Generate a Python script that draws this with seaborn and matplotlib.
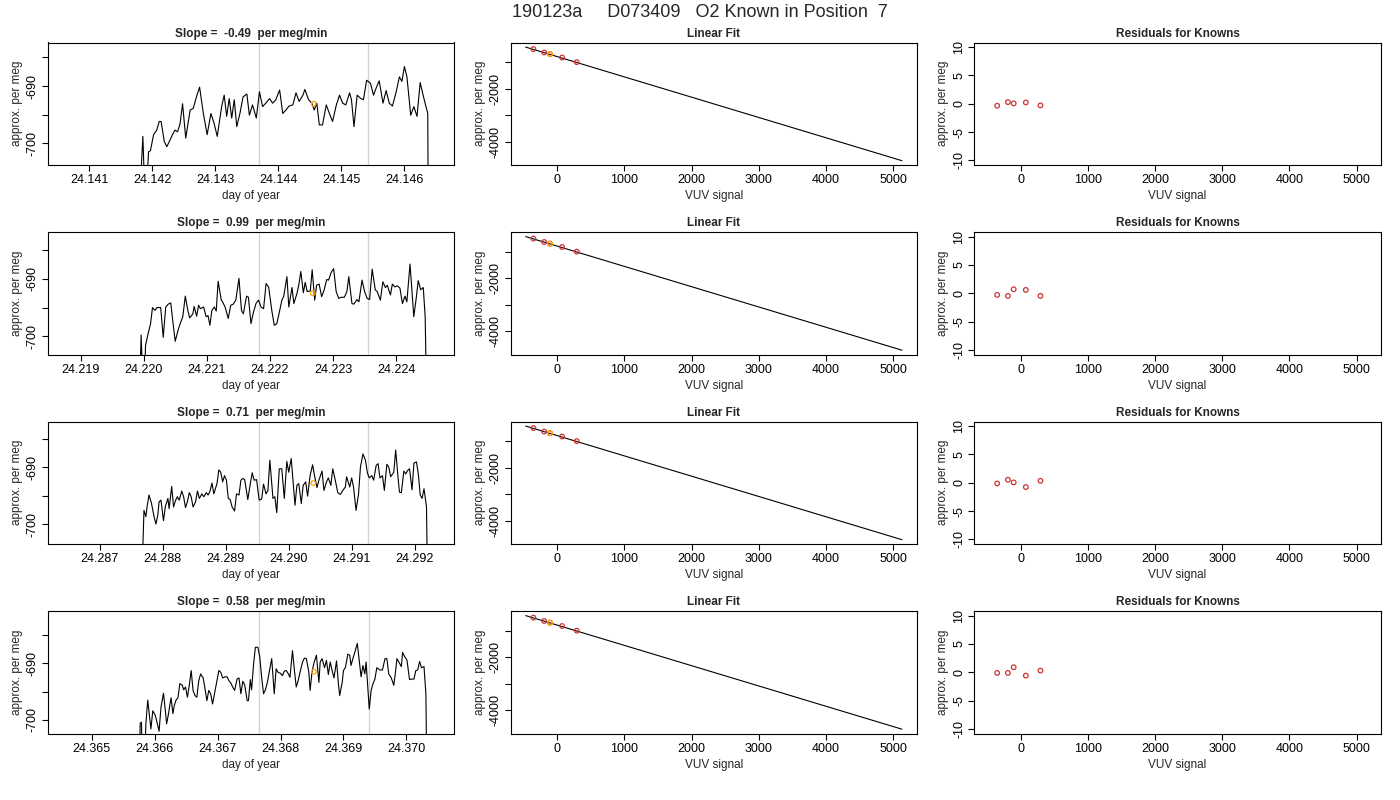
import numpy as np
import pandas as pd
import matplotlib
matplotlib.use("Agg")
import matplotlib.pyplot as plt
import matplotlib.ticker as mticker
import seaborn as sns

# ---- data ----
main_title = "190123a     D073409   O2 Known in Position  7"
slopes = [-0.49, 0.99, 0.71, 0.58]

# time series (day of year, approx. per meg); values off the bottom are clipped
t1 = [24.14179, 24.14185, 24.14189, 24.14194, 24.14197, 24.14202, 24.14207, 24.14211, 24.14214, 24.14219,
      24.14223, 24.14227, 24.14232, 24.14236, 24.14240, 24.14244, 24.14248, 24.14253, 24.14260, 24.14265,
      24.14270, 24.14275, 24.14281, 24.14287, 24.14293, 24.14298, 24.14303, 24.14310, 24.14314, 24.14318,
      24.14322, 24.14326, 24.14330, 24.14334, 24.14339, 24.14344, 24.14350, 24.14354, 24.14359, 24.14365,
      24.14370, 24.14375, 24.14380, 24.14386, 24.14391, 24.14396, 24.14402, 24.14407, 24.14412, 24.14417,
      24.14423, 24.14428, 24.14433, 24.14439, 24.14442, 24.14448, 24.14453, 24.14457, 24.14461, 24.14465,
      24.14470, 24.14476, 24.14481, 24.14486, 24.14492, 24.14497, 24.14502, 24.14507, 24.14513, 24.14516,
      24.14520, 24.14525, 24.14531, 24.14535, 24.14540, 24.14546, 24.14551, 24.14555, 24.14560, 24.14566,
      24.14571, 24.14576, 24.14581, 24.14587, 24.14592, 24.14596, 24.14600, 24.14604, 24.14610, 24.14615,
      24.14620, 24.14625, 24.14631, 24.14637, 24.14638]
v1 = [-712, -698.8, -712, -701.5, -701.3, -698.5, -697.7, -696.2, -696.2, -699.7,
      -700.6, -699.7, -698.5, -697.7, -698.0, -696.6, -693.1, -699.1, -694.2, -693.9,
      -691.9, -690.2, -694.8, -698.5, -694.8, -696.5, -698.8, -693.6, -691.6, -695.3,
      -692.2, -695.6, -692.4, -697.1, -694.8, -691.9, -691.4, -695.1, -693.3, -695.6,
      -691.0, -693.6, -693.0, -692.2, -693.0, -692.4, -690.7, -694.8, -694.2, -693.5,
      -693.3, -691.2, -692.7, -691.6, -690.6, -692.4, -693.0, -694.2, -693.0, -696.8,
      -696.8, -693.3, -694.8, -696.2, -693.3, -691.6, -693.0, -693.3, -691.2, -692.4,
      -697.1, -691.6, -692.2, -692.4, -689.0, -689.5, -691.6, -690.4, -689.1, -693.0,
      -690.8, -693.0, -693.5, -691.0, -688.4, -689.2, -686.6, -688.4, -695.1, -693.6,
      -695.3, -689.4, -692.2, -694.8, -715]

t2 = [24.21993, 24.21996, 24.22000, 24.22003, 24.22007, 24.22011, 24.22014, 24.22018, 24.22021, 24.22025,
      24.22027, 24.22031, 24.22035, 24.22039, 24.22043, 24.22046, 24.22050, 24.22053, 24.22056, 24.22062,
      24.22066, 24.22070, 24.22073, 24.22078, 24.22080, 24.22084, 24.22087, 24.22090, 24.22095, 24.22099,
      24.22102, 24.22105, 24.22108, 24.22112, 24.22115, 24.22118, 24.22123, 24.22125, 24.22129, 24.22134,
      24.22138, 24.22142, 24.22146, 24.22151, 24.22155, 24.22158, 24.22163, 24.22166, 24.22170, 24.22174,
      24.22178, 24.22182, 24.22186, 24.22190, 24.22194, 24.22198, 24.22203, 24.22207, 24.22211, 24.22215,
      24.22219, 24.22222, 24.22227, 24.22230, 24.22235, 24.22238, 24.22243, 24.22246, 24.22249, 24.22253,
      24.22256, 24.22259, 24.22264, 24.22267, 24.22271, 24.22274, 24.22278, 24.22282, 24.22286, 24.22290,
      24.22293, 24.22297, 24.22301, 24.22305, 24.22309, 24.22313, 24.22318, 24.22322, 24.22325, 24.22330,
      24.22333, 24.22338, 24.22341, 24.22346, 24.22350, 24.22354, 24.22358, 24.22362, 24.22367, 24.22370,
      24.22375, 24.22379, 24.22383, 24.22386, 24.22391, 24.22394, 24.22398, 24.22402, 24.22406, 24.22410,
      24.22414, 24.22417, 24.22422, 24.22428, 24.22432, 24.22435, 24.22439, 24.22443, 24.22446, 24.22449]
v2 = [-712, -699.8, -712, -701.6, -699.6, -697.8, -695.0, -695.5, -695.0, -695.0,
      -695.0, -700.2, -694.9, -694.4, -694.2, -697.2, -700.9, -699.6, -698.4, -696.6,
      -693.0, -695.5, -696.8, -696.1, -694.8, -696.5, -694.6, -695.2, -694.9, -696.6,
      -696.4, -698.1, -695.5, -694.9, -695.6, -690.4, -693.7, -694.0, -694.9, -696.9,
      -694.6, -694.4, -693.7, -689.9, -695.5, -696.1, -693.0, -693.2, -697.8, -695.8,
      -694.3, -693.7, -694.9, -695.2, -690.8, -691.4, -695.5, -698.1, -697.8, -695.8,
      -693.7, -693.0, -689.6, -694.9, -691.5, -694.3, -692.5, -690.9, -688.7, -692.4,
      -690.6, -692.2, -692.1, -688.4, -693.7, -691.1, -690.9, -693.1, -691.9, -690.1,
      -690.2, -688.9, -688.2, -692.2, -693.4, -693.2, -693.2, -692.2, -689.6, -694.3,
      -694.4, -693.6, -694.0, -690.2, -692.2, -693.4, -693.6, -688.3, -691.9, -692.2,
      -693.7, -690.5, -691.5, -691.1, -692.8, -690.9, -691.4, -691.2, -691.6, -694.3,
      -693.0, -694.0, -687.4, -696.6, -693.2, -690.3, -691.9, -691.5, -696.6, -715]

t3 = [24.28766, 24.28770, 24.28773, 24.28775, 24.28778, 24.28782, 24.28786, 24.28789, 24.28792, 24.28794,
      24.28797, 24.28801, 24.28804, 24.28808, 24.28810, 24.28814, 24.28817, 24.28820, 24.28823, 24.28826,
      24.28830, 24.28833, 24.28836, 24.28839, 24.28842, 24.28845, 24.28848, 24.28852, 24.28855, 24.28858,
      24.28862, 24.28865, 24.28869, 24.28872, 24.28875, 24.28878, 24.28881, 24.28886, 24.28889, 24.28892,
      24.28895, 24.28898, 24.28901, 24.28904, 24.28907, 24.28910, 24.28914, 24.28917, 24.28921, 24.28924,
      24.28927, 24.28930, 24.28935, 24.28939, 24.28942, 24.28945, 24.28949, 24.28953, 24.28957, 24.28960,
      24.28964, 24.28967, 24.28970, 24.28975, 24.28978, 24.28981, 24.28985, 24.28989, 24.28993, 24.28997,
      24.29000, 24.29004, 24.29007, 24.29010, 24.29013, 24.29016, 24.29020, 24.29023, 24.29027, 24.29030,
      24.29034, 24.29038, 24.29041, 24.29045, 24.29048, 24.29053, 24.29056, 24.29060, 24.29063, 24.29067,
      24.29070, 24.29074, 24.29078, 24.29082, 24.29086, 24.29090, 24.29092, 24.29097, 24.29100, 24.29103,
      24.29107, 24.29111, 24.29114, 24.29118, 24.29122, 24.29125, 24.29128, 24.29132, 24.29135, 24.29139,
      24.29142, 24.29145, 24.29149, 24.29152, 24.29156, 24.29159, 24.29162, 24.29167, 24.29170, 24.29173,
      24.29176, 24.29179, 24.29183, 24.29186, 24.29189, 24.29192, 24.29196, 24.29199, 24.29203, 24.29206,
      24.29209, 24.29212, 24.29215, 24.29219, 24.29221]
v3 = [-712, -697.6, -698.7, -696.9, -694.9, -696.4, -698.7, -700.0, -698.4, -696.1,
      -695.8, -699.4, -696.9, -695.5, -697.3, -693.4, -697.0, -695.9, -695.2, -695.8,
      -694.2, -695.2, -697.1, -696.1, -694.5, -695.2, -697.0, -696.1, -694.2, -695.5,
      -694.7, -695.2, -694.5, -694.9, -694.2, -692.8, -694.7, -692.9, -690.5, -690.9,
      -692.6, -691.5, -692.3, -695.5, -695.7, -697.0, -697.7, -694.7, -694.9, -692.3,
      -692.0, -692.2, -695.7, -692.9, -691.0, -692.3, -692.2, -695.8, -695.6, -693.0,
      -694.7, -694.1, -688.8, -695.5, -695.2, -698.0, -690.3, -690.3, -695.5, -689.0,
      -690.9, -688.5, -692.6, -696.7, -693.2, -692.9, -696.4, -693.2, -692.6, -695.1,
      -691.5, -689.6, -691.5, -693.6, -692.3, -690.7, -694.1, -692.6, -691.9, -693.2,
      -690.3, -692.3, -694.5, -694.8, -694.1, -693.5, -691.7, -693.5, -691.9, -693.5,
      -697.6, -694.7, -690.0, -687.7, -688.8, -691.0, -691.9, -691.5, -692.3, -689.7,
      -689.4, -691.9, -691.5, -694.1, -689.5, -690.0, -691.7, -690.9, -687.0, -690.9,
      -694.4, -694.5, -690.7, -691.2, -690.6, -690.3, -694.0, -689.3, -689.1, -691.2,
      -694.9, -695.5, -693.8, -697.0, -715]

t4 = [24.36575, 24.36577, 24.36579, 24.36581, 24.36584, 24.36586, 24.36589, 24.36592, 24.36594, 24.36597,
      24.36601, 24.36603, 24.36607, 24.36610, 24.36614, 24.36617, 24.36619, 24.36622, 24.36626, 24.36629,
      24.36631, 24.36634, 24.36637, 24.36640, 24.36644, 24.36646, 24.36649, 24.36652, 24.36655, 24.36658,
      24.36661, 24.36664, 24.36667, 24.36670, 24.36673, 24.36677, 24.36680, 24.36683, 24.36686, 24.36689,
      24.36692, 24.36696, 24.36699, 24.36702, 24.36705, 24.36708, 24.36712, 24.36715, 24.36718, 24.36721,
      24.36724, 24.36727, 24.36731, 24.36734, 24.36737, 24.36740, 24.36743, 24.36747, 24.36749, 24.36752,
      24.36754, 24.36757, 24.36760, 24.36764, 24.36767, 24.36770, 24.36773, 24.36776, 24.36779, 24.36783,
      24.36786, 24.36790, 24.36793, 24.36796, 24.36800, 24.36803, 24.36806, 24.36809, 24.36812, 24.36815,
      24.36819, 24.36822, 24.36825, 24.36828, 24.36831, 24.36835, 24.36838, 24.36841, 24.36845, 24.36847,
      24.36850, 24.36853, 24.36857, 24.36861, 24.36863, 24.36866, 24.36870, 24.36873, 24.36876, 24.36879,
      24.36882, 24.36885, 24.36889, 24.36892, 24.36894, 24.36898, 24.36900, 24.36903, 24.36907, 24.36910,
      24.36912, 24.36915, 24.36918, 24.36922, 24.36925, 24.36928, 24.36931, 24.36934, 24.36936, 24.36939,
      24.36941, 24.36944, 24.36947, 24.36950, 24.36953, 24.36958, 24.36962, 24.36966, 24.36969, 24.36972,
      24.36976, 24.36980, 24.36983, 24.36985, 24.36988, 24.36992, 24.36994, 24.36997, 24.37001, 24.37005,
      24.37008, 24.37012, 24.37015, 24.37018, 24.37021, 24.37024, 24.37028, 24.37031, 24.37033]
v4 = [-712, -700.6, -700.4, -712, -708, -700.7, -696.5, -699.5, -701.6, -698.4,
      -699.2, -700.1, -702.0, -697.8, -695.3, -698.4, -700.7, -698.9, -696.1, -698.9,
      -697.5, -696.5, -696.1, -693.6, -693.9, -694.7, -694.2, -696.0, -693.9, -691.3,
      -694.8, -695.7, -696.0, -693.1, -691.9, -692.6, -694.5, -696.6, -694.8, -695.4,
      -697.2, -694.8, -692.9, -691.3, -691.6, -692.6, -692.4, -692.4, -693.1, -693.5,
      -694.2, -694.8, -692.8, -692.6, -695.4, -693.2, -693.8, -696.6, -696.6, -692.9,
      -694.7, -690.4, -687.2, -687.2, -688.9, -692.5, -695.4, -694.7, -693.4, -691.0,
      -689.2, -695.4, -691.0, -691.6, -691.8, -692.2, -691.4, -691.3, -691.8, -692.5,
      -687.8, -691.2, -694.2, -693.1, -691.6, -689.8, -689.1, -689.2, -691.6, -694.8,
      -691.6, -690.0, -688.6, -693.4, -689.8, -689.2, -690.8, -689.5, -692.0, -689.8,
      -691.3, -692.6, -689.6, -693.6, -695.7, -693.4, -691.3, -690.8, -688.4, -688.6,
      -690.4, -689.2, -688.1, -686.5, -689.5, -692.4, -690.4, -691.9, -689.8, -694.8,
      -698.1, -694.8, -693.6, -692.8, -690.8, -691.2, -691.2, -689.2, -689.2, -691.9,
      -692.6, -693.9, -691.3, -689.2, -689.8, -690.6, -688.1, -688.8, -689.5, -692.9,
      -692.8, -692.8, -691.3, -691.2, -689.7, -690.8, -690.6, -695.4, -715]

series_t = [t1, t2, t3, t4]
series_v = [v1, v2, v3, v4]

# averaging window (gray lines) and window mean (orange point)
window_start = [24.14369, 24.22182, 24.28952, 24.36766]
window_end = [24.14542, 24.22356, 24.29126, 24.36940]
mean_t = [24.14456, 24.22268, 24.29039, 24.36853]
mean_v = [-693.1, -692.5, -692.8, -691.5]

# knowns: VUV signal vs approx. per meg, and the fitted line
vuv = [-355, -195, -109, 72, 290]
known_pm = [-493, -622, -683, -812, -987]
this_known = 2
fit_x = [-470, 5130]
fit_y = [-417, -4721]

residuals = [
    [-0.35, 0.29, 0.06, 0.23, -0.29],
    [-0.29, -0.47, 0.70, 0.59, -0.47],
    [-0.12, 0.53, 0.06, -0.76, 0.35],
    [-0.12, -0.12, 0.88, -0.59, 0.29],
]

# axis ranges of the left panels
ts_xlim = [(24.14034, 24.14679), (24.21848, 24.22492), (24.28617, 24.29263), (24.36430, 24.37076)]
ts_ylim = [(-703.8, -682.4), (-703.2, -681.8), (-703.5, -682.0), (-702.4, -680.8)]
ts_xticks = [[24.141, 24.142, 24.143, 24.144, 24.145, 24.146],
             [24.219, 24.220, 24.221, 24.222, 24.223, 24.224],
             [24.287, 24.288, 24.289, 24.290, 24.291, 24.292],
             [24.365, 24.366, 24.367, 24.368, 24.369, 24.370]]

# ---- style ----
sns.set_style("ticks")
plt.rcParams['font.family'] = ['Liberation Sans', 'DejaVu Sans']
plt.rcParams['axes.linewidth'] = 0.8
plt.rcParams['xtick.major.size'] = 4
plt.rcParams['ytick.major.size'] = 4
plt.rcParams['xtick.major.width'] = 0.8
plt.rcParams['ytick.major.width'] = 0.8
plt.rcParams['xtick.color'] = 'black'
plt.rcParams['ytick.color'] = 'black'

FS = 8.5       # titles and axis labels
TICK_FS = 9    # tick labels
RED = '#cc3333'
ORANGE = '#ffa500'
MS = 11

fig = plt.figure(figsize=(14, 8), dpi=100)
fig.patch.set_facecolor('white')
fig.text(0.5, 0.984, main_title, ha='center', va='center', fontsize=13)

row_top = [42.5, 232.0, 421.5, 611.0]
box_h = 122.5
col_left = [47.7, 510.7, 974.3]
box_w = 406.5


def style_axes(ax, title, xlabel):
    for sp in ax.spines.values():
        sp.set_visible(True)
        sp.set_color('black')
        sp.set_linewidth(0.8)
    ax.set_facecolor('white')
    ax.set_title(title, fontsize=FS, fontweight='bold', pad=4)
    ax.set_xlabel(xlabel, fontsize=FS, labelpad=3)
    ax.set_ylabel("approx. per meg", fontsize=FS, labelpad=3)
    ax.tick_params(axis='both', labelsize=TICK_FS, pad=2.5)
    ax.tick_params(axis='y', labelrotation=90)
    for lbl in ax.get_yticklabels():
        lbl.set_va('center')


for r in range(4):
    bottom = 1 - (row_top[r] + box_h) / 800
    h = box_h / 800
    axes = [fig.add_axes([col_left[c] / 1400, bottom, box_w / 1400, h]) for c in range(3)]

    # time series panel
    ax = axes[0]
    ts = pd.DataFrame({'t': series_t[r], 'v': series_v[r]})
    sns.lineplot(data=ts, x='t', y='v', ax=ax, color='black', linewidth=0.8,
                 estimator=None, sort=False)
    ax.axvline(window_start[r], color='#d3d3d3', linewidth=1.0, zorder=0)
    ax.axvline(window_end[r], color='#d3d3d3', linewidth=1.0, zorder=0)
    sns.scatterplot(x=[mean_t[r]], y=[mean_v[r]], ax=ax, marker='o', s=MS,
                    facecolor='none', edgecolor=ORANGE, linewidth=0.9, zorder=5)
    ax.set_xlim(*ts_xlim[r])
    ax.set_ylim(*ts_ylim[r])
    ax.xaxis.set_major_locator(mticker.FixedLocator(ts_xticks[r]))
    ax.xaxis.set_major_formatter(mticker.FormatStrFormatter('%.3f'))
    ax.yaxis.set_major_locator(mticker.FixedLocator([-700, -695, -690, -685]))
    ax.yaxis.set_major_formatter(mticker.FixedFormatter(['-700', '', '-690', '']))
    style_axes(ax, f"Slope =  {slopes[r]:.2f}  per meg/min", "day of year")

    # linear fit panel
    ax = axes[1]
    sns.lineplot(x=fit_x, y=fit_y, ax=ax, color='black', linewidth=0.8,
                 estimator=None, sort=False)
    kn = pd.DataFrame({'vuv': vuv, 'pm': known_pm})
    sns.scatterplot(data=kn, x='vuv', y='pm', ax=ax, marker='o', s=MS,
                    facecolor='none', edgecolor=RED, linewidth=0.9, zorder=4)
    sns.scatterplot(x=[vuv[this_known]], y=[known_pm[this_known]], ax=ax, marker='o', s=MS,
                    facecolor='none', edgecolor=ORANGE, linewidth=1.0, zorder=5)
    ax.set_xlim(-693, 5357)
    ax.set_ylim(-4884, -243)
    ax.xaxis.set_major_locator(mticker.FixedLocator([0, 1000, 2000, 3000, 4000, 5000]))
    ax.yaxis.set_major_locator(mticker.FixedLocator([-4000, -3000, -2000, -1000]))
    ax.yaxis.set_major_formatter(mticker.FixedFormatter(['-4000', '', '-2000', '']))
    style_axes(ax, "Linear Fit", "VUV signal")

    # residual panel
    ax = axes[2]
    rs = pd.DataFrame({'vuv': vuv, 'res': residuals[r]})
    sns.scatterplot(data=rs, x='vuv', y='res', ax=ax, marker='o', s=MS,
                    facecolor='none', edgecolor=RED, linewidth=0.9)
    ax.set_xlim(-696, 5362)
    ax.set_ylim(-10.8, 10.8)
    ax.xaxis.set_major_locator(mticker.FixedLocator([0, 1000, 2000, 3000, 4000, 5000]))
    ax.yaxis.set_major_locator(mticker.FixedLocator([-10, -5, 0, 5, 10]))
    ax.yaxis.set_major_formatter(mticker.FormatStrFormatter('%d'))
    style_axes(ax, "Residuals for Knowns", "VUV signal")

fig.savefig("out.png", dpi=100, facecolor='white')
